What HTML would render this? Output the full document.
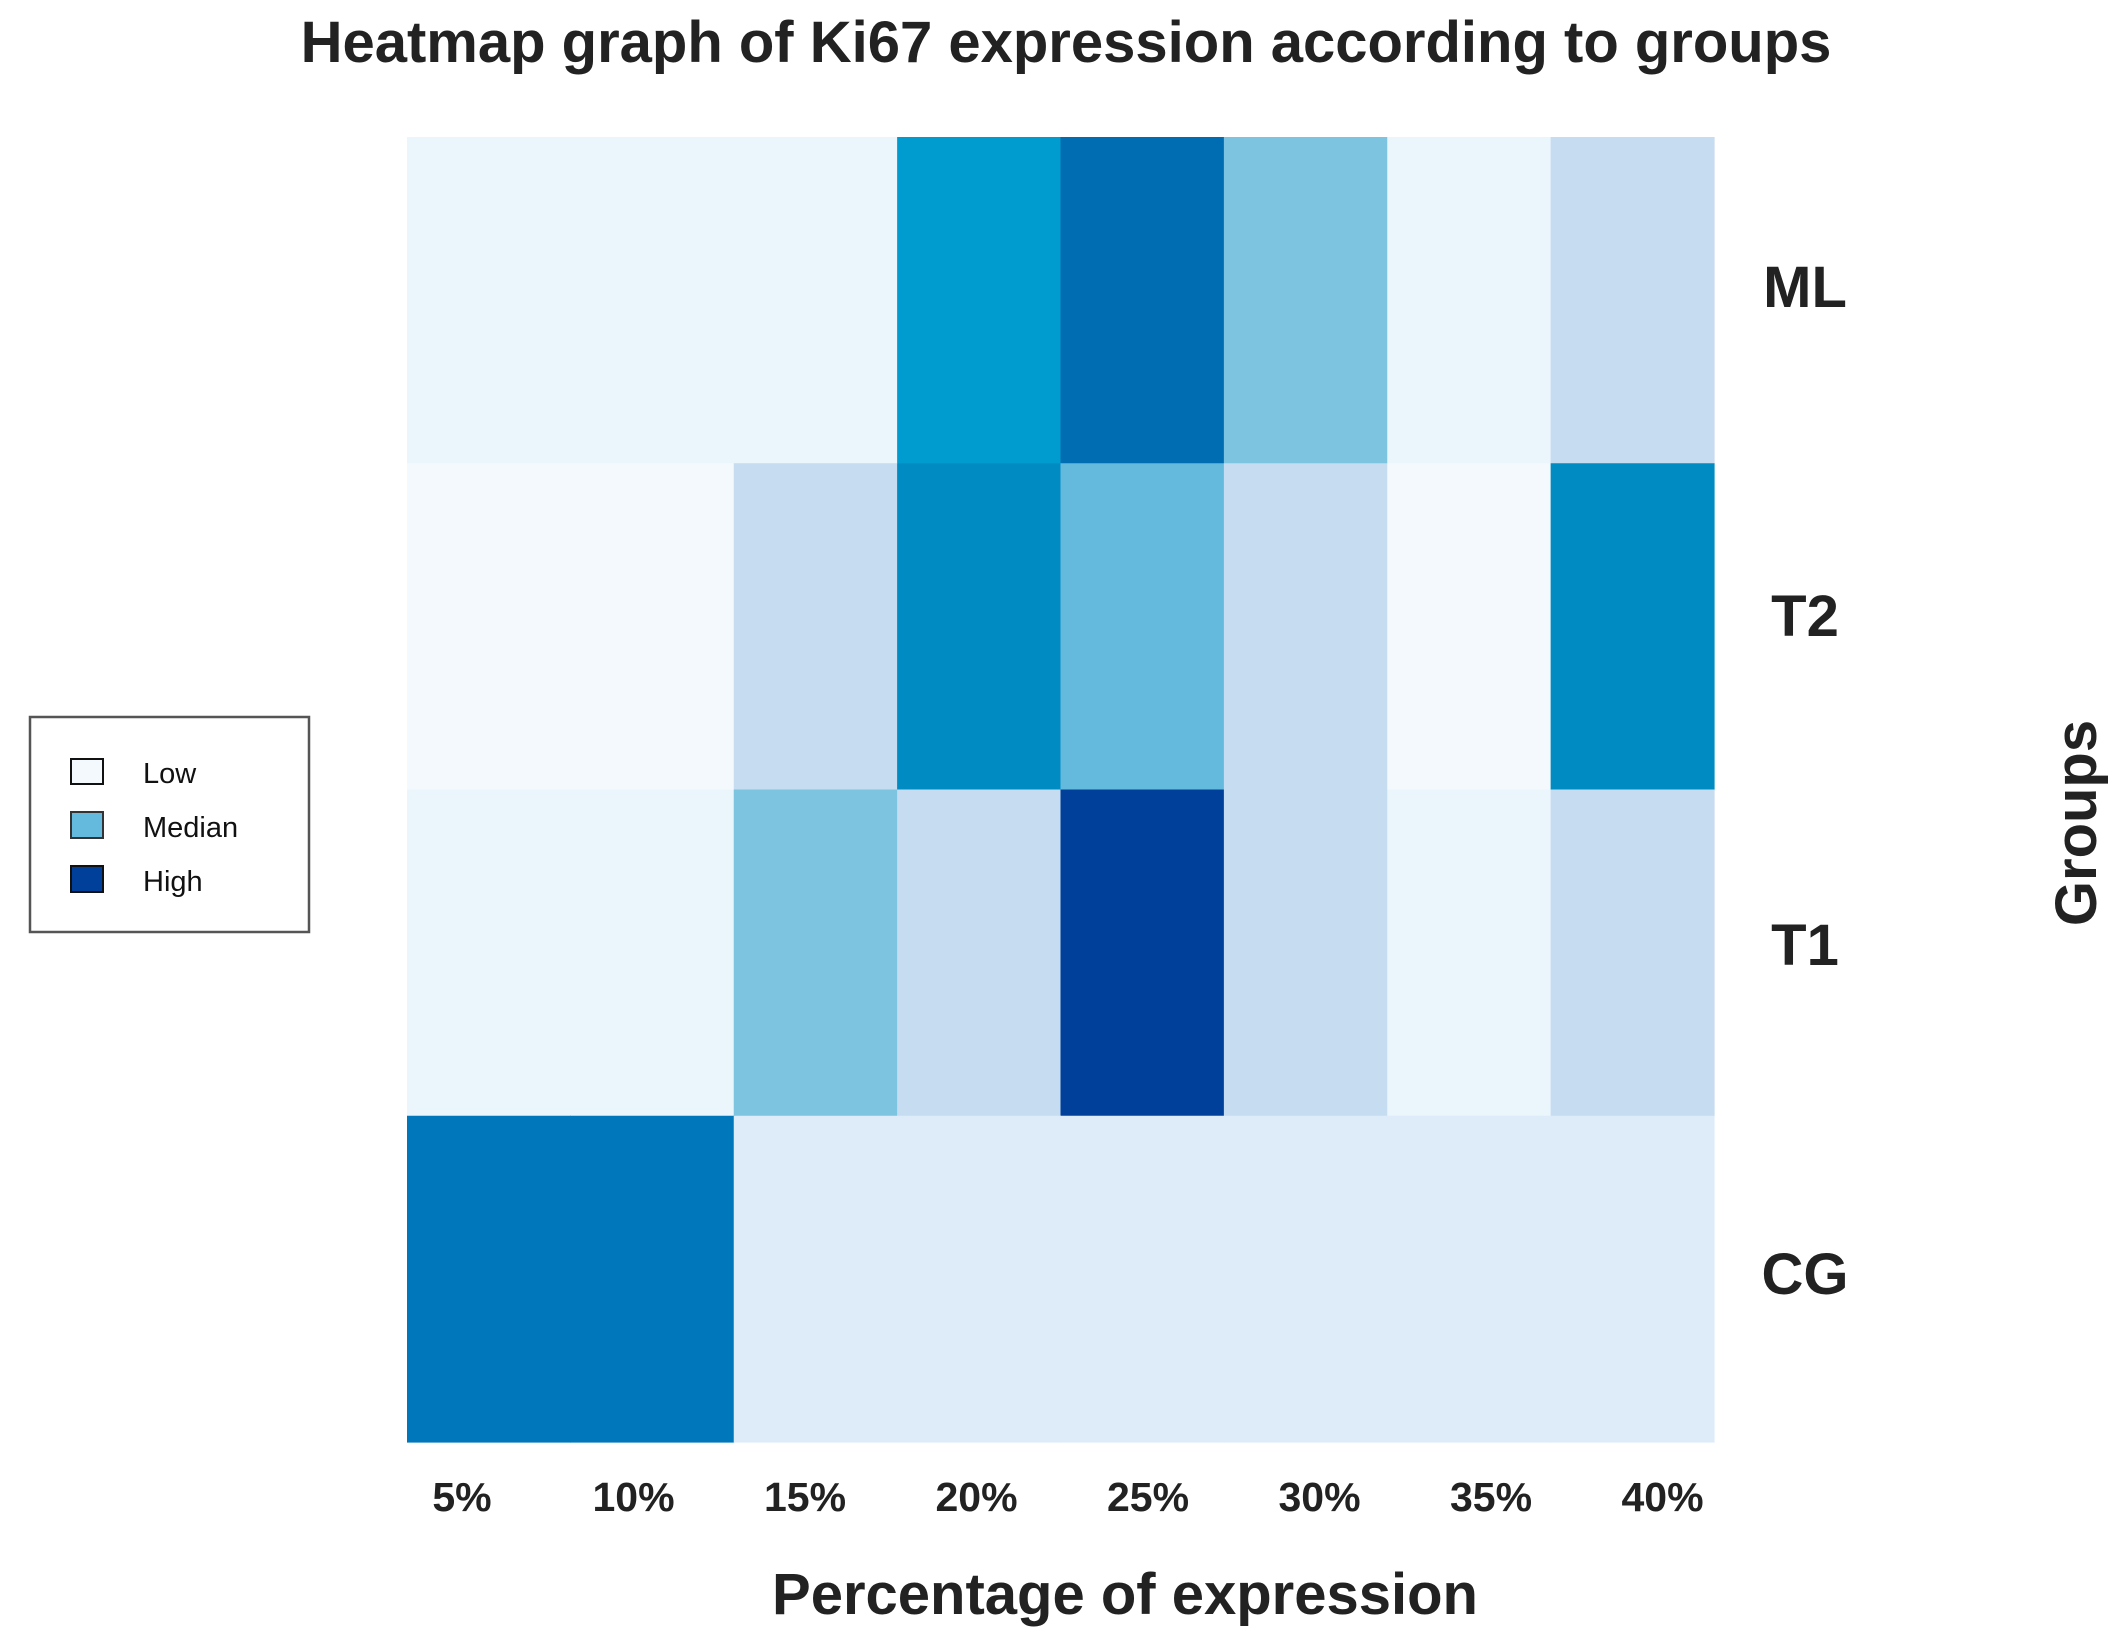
<!DOCTYPE html>
<html><head><meta charset="utf-8"><style>
body{margin:0;background:#fff;}
svg text{font-family:"Liberation Sans",Arial,sans-serif;}
</style></head><body>
<svg id="chart" width="2127" height="1646" viewBox="0 0 2127 1646" xmlns="http://www.w3.org/2000/svg">
<rect width="2127" height="1646" fill="#fff"/>
<text x="1066" y="62" text-anchor="middle" font-size="58" font-weight="bold" fill="#222">Heatmap graph of Ki67 expression according to groups</text>
<g id="cells"></g>
<g id="xticks"></g>
<g id="yticks"></g>
<text x="1125" y="1614" text-anchor="middle" font-size="58" font-weight="bold" fill="#222">Percentage of expression</text>
<text transform="translate(2096,823) rotate(-90)" text-anchor="middle" font-size="58" font-weight="bold" fill="#222">Groups</text>
<g>
<rect x="30" y="717" width="279" height="215" fill="#fff" stroke="#555" stroke-width="2.5"/>
<g><rect x="71" y="759" width="32" height="25" fill="#f4f9fe" stroke="#111" stroke-width="2"/><text x="143" y="783" font-size="29" fill="#111">Low</text></g>
<g><rect x="71" y="812" width="32" height="26" fill="#64badd" stroke="#333" stroke-width="2"/><text x="143" y="837" font-size="29" fill="#111">Median</text></g>
<g><rect x="71" y="866" width="32" height="26" fill="#00409a" stroke="#111" stroke-width="2"/><text x="143" y="891" font-size="29" fill="#111">High</text></g>
</g>
</svg>
<script>
const categories = ["5%","10%","15%","20%","25%","30%","35%","40%"];
const groups = ["ML","T2","T1","CG"];
const palette = ["#f4f9fe","#ebf5fc","#deecf9","#c6dcf0","#7cc4df","#64badd","#009ccf","#008bc2","#0077bb","#006db3","#00409a"];
const valuesML = [1,1,1,6,9,4,1,3];
const valuesT2 = [0,0,3,7,5,3,0,7];
const valuesT1 = [1,1,4,3,10,3,1,3];
const valuesCG = [8,8,2,2,2,2,2,2];
const rows = [valuesML, valuesT2, valuesT1, valuesCG];

const NS = "http://www.w3.org/2000/svg";
const L = 407, R = 1714, T = 137, B = 1442;
const cw = (R - L) / categories.length, rh = (B - T) / groups.length;
const xPos = i => L + i * cw;
const yPos = j => T + j * rh;
const xTick = i => 462 + i * 171.5;
const yLabel = j => 307 + j * 329;
const color = v => palette[Math.max(0, Math.min(palette.length - 1, Math.round(v)))];

const cells = document.getElementById('cells');
rows.forEach((row, j) => {
  row.forEach((v, i) => {
    const r = document.createElementNS(NS, 'rect');
    
    
    r.setAttribute('x', xPos(i));
    r.setAttribute('y', yPos(j));
    r.setAttribute('width', cw + 0.6);
    r.setAttribute('height', rh + 0.6);
    r.setAttribute('fill', color(v));
    cells.appendChild(r);
  });
});
const xt = document.getElementById('xticks');
categories.forEach((c, i) => {
  const t = document.createElementNS(NS, 'text');
  
  
  t.setAttribute('x', xTick(i));
  t.setAttribute('y', 1511);
  t.setAttribute('text-anchor', 'middle');
  t.setAttribute('font-size', '41');
  t.setAttribute('font-weight', 'bold');
  t.setAttribute('fill', '#222');
  t.textContent = c;
  xt.appendChild(t);
});
const yt = document.getElementById('yticks');
groups.forEach((g, j) => {
  const t = document.createElementNS(NS, 'text');
  
  
  t.setAttribute('x', 1805);
  t.setAttribute('y', yLabel(j));
  t.setAttribute('text-anchor', 'middle');
  t.setAttribute('font-size', '58');
  t.setAttribute('font-weight', 'bold');
  t.setAttribute('fill', '#222');
  t.textContent = g;
  yt.appendChild(t);
});
</script>
</body></html>
